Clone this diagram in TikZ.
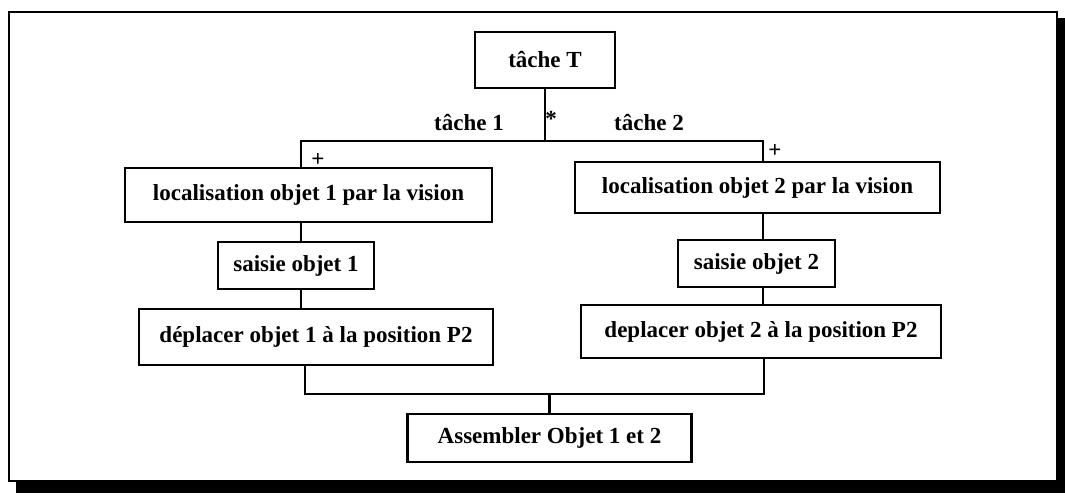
\documentclass[tikz,border=0pt]{standalone}
\usepackage{fontspec}
\setmainfont{Liberation Serif}
\begin{document}
\begin{tikzpicture}[x=0.5pt,y=-0.5pt,line width=1.4pt]
		\tikzstyle{every node}+=[inner sep=0pt,font=\fontsize{11.5pt}{14pt}\selectfont\bfseries]
		\tikzstyle{boite}=[draw,black,line width=1.4pt]
		\useasboundingbox (0,0) rectangle (1065,497);
		\fill [white] (0,0) rectangle (1065,497);
		\draw [black] (9,12) rectangle (1057,481);
		\fill [black] (1057,18) rectangle (1065,493);
		\fill [black] (16,481) rectangle (1065,493);
		\node [boite,minimum width=70pt,minimum height=28pt] (tacheT) at (545,60) {tâche T};
		\node [boite,minimum width=183.5pt,minimum height=27pt] (loc1) at (308.5,195) {localisation objet 1 par la vision};
		\node [boite,minimum width=182.5pt,minimum height=25.5pt] (loc2) at (757.5,187.5) {localisation objet 2 par la vision};
		\node [boite,minimum width=78pt,minimum height=23.5pt] (saisie1) at (296,265.5) {saisie objet 1};
		\node [boite,minimum width=78.5pt,minimum height=23.5pt] (saisie2) at (756.5,263.5) {saisie objet 2};
		\node [boite,minimum width=177pt,minimum height=28pt] (depl1) at (316,337) {déplacer objet 1 à la position P2};
		\node [boite,minimum width=180pt,minimum height=26.5pt] (depl2) at (761,331.5) {deplacer objet 2 à la position P2};
		\node [boite,minimum width=142pt,minimum height=24pt] (assembler) at (549.5,438) {Assembler Objet 1 et 2};
		\coordinate (b1) at (301,141);
		\coordinate (b2) at (763,141);
		\coordinate (c1) at (305,394);
		\coordinate (c2) at (764,394);
		\draw [black] (tacheT.south) -- (tacheT.south |- b1);
		\draw [black] (b1 |- loc1.north) -- (b1) -- (b2) -- (b2 |- loc2.north);
		\draw [black] (b1 |- loc1.south) -- (b1 |- saisie1.north);
		\draw [black] (b1 |- saisie1.south) -- (b1 |- depl1.north);
		\draw [black] (b2 |- loc2.south) -- (b2 |- saisie2.north);
		\draw [black] (b2 |- saisie2.south) -- (b2 |- depl2.north);
		\draw [black] (c1 |- depl1.south) -- (c1) -- (c2) -- (c2 |- depl2.south);
		\draw [black] (assembler.north) -- (assembler.north |- c1);
		\node (t1) at (469,123) {tâche 1};
		\node (t2) at (649,123) {tâche 2};
		\node (etoile) at (551,119) {*};
		\node (plus1) at (318,160) {+};
		\node (plus2) at (775,151) {+};
	\end{tikzpicture}
\end{document}
